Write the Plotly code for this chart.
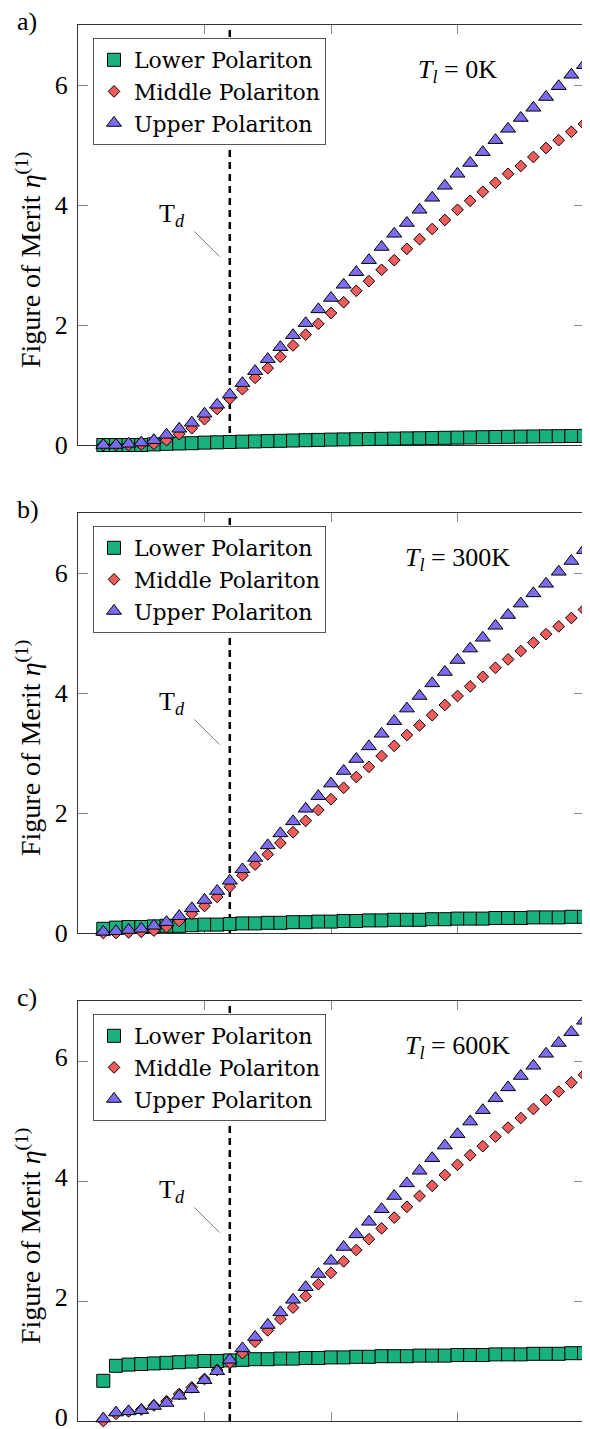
import plotly.graph_objects as go

# ---------------- data ----------------
x_vals = [0.2, 0.3, 0.4, 0.5, 0.6, 0.7, 0.8, 0.9, 1.0, 1.1,
          1.2, 1.3, 1.4, 1.5, 1.6, 1.7, 1.8, 1.9, 2.0, 2.1,
          2.2, 2.3, 2.4, 2.5, 2.6, 2.7, 2.8, 2.9, 3.0, 3.1,
          3.2, 3.3, 3.4, 3.5, 3.6, 3.7, 3.8, 3.9, 4.0]

# Panel a) T_l = 0K
lower_a = [0.00, 0.00, 0.00, 0.00, 0.01, 0.02, 0.025, 0.03, 0.04, 0.045,
           0.05, 0.055, 0.06, 0.065, 0.07, 0.075, 0.08, 0.085, 0.09, 0.093,
           0.096, 0.10, 0.103, 0.106, 0.11, 0.113, 0.116, 0.12, 0.123, 0.126,
           0.13, 0.133, 0.136, 0.14, 0.142, 0.145, 0.147, 0.15, 0.152]
middle_a = [0.00, 0.00, 0.00, 0.01, 0.02, 0.08, 0.18, 0.28, 0.43, 0.60,
            0.77, 0.93, 1.12, 1.28, 1.47, 1.66, 1.84, 2.02, 2.20, 2.38,
            2.57, 2.73, 2.92, 3.08, 3.27, 3.43, 3.60, 3.75, 3.92, 4.07,
            4.22, 4.37, 4.52, 4.65, 4.80, 4.95, 5.08, 5.22, 5.35]
upper_a = [0.00, 0.00, 0.02, 0.04, 0.08, 0.17, 0.27, 0.37, 0.52, 0.67,
           0.84, 1.03, 1.23, 1.43, 1.63, 1.83, 2.03, 2.26, 2.45, 2.67,
           2.88, 3.08, 3.30, 3.52, 3.70, 3.92, 4.12, 4.32, 4.52, 4.70,
           4.88, 5.08, 5.27, 5.45, 5.62, 5.80, 5.98, 6.17, 6.33]

# Panel b) T_l = 300K
lower_b = [0.07, 0.09, 0.10, 0.10, 0.11, 0.12, 0.12, 0.13, 0.14, 0.14,
           0.15, 0.16, 0.16, 0.17, 0.17, 0.18, 0.18, 0.19, 0.19, 0.20,
           0.20, 0.21, 0.21, 0.22, 0.22, 0.22, 0.23, 0.23, 0.24, 0.24,
           0.24, 0.25, 0.25, 0.25, 0.26, 0.26, 0.26, 0.27, 0.27]
middle_b = [0.00, 0.00, 0.01, 0.02, 0.04, 0.10, 0.20, 0.32, 0.45, 0.60,
            0.77, 0.96, 1.14, 1.31, 1.50, 1.68, 1.87, 2.05, 2.23, 2.42,
            2.60, 2.77, 2.95, 3.12, 3.30, 3.46, 3.63, 3.80, 3.95, 4.11,
            4.27, 4.42, 4.56, 4.70, 4.84, 4.98, 5.11, 5.25, 5.39]
upper_b = [0.02, 0.03, 0.05, 0.07, 0.12, 0.18, 0.28, 0.41, 0.55, 0.70,
           0.87, 1.06, 1.25, 1.46, 1.66, 1.86, 2.07, 2.28, 2.49, 2.70,
           2.90, 3.11, 3.32, 3.53, 3.74, 3.95, 4.16, 4.35, 4.55, 4.74,
           4.92, 5.12, 5.30, 5.49, 5.66, 5.82, 6.02, 6.20, 6.38]

# Panel c) T_l = 600K
lower_c = [0.67, 0.92, 0.94, 0.95, 0.96, 0.97, 0.98, 0.99, 1.00, 1.00,
           1.01, 1.02, 1.03, 1.03, 1.04, 1.04, 1.05, 1.05, 1.06, 1.06,
           1.07, 1.07, 1.08, 1.08, 1.08, 1.09, 1.09, 1.09, 1.10, 1.10,
           1.10, 1.11, 1.11, 1.11, 1.12, 1.12, 1.12, 1.13, 1.13]
middle_c = [0.00, 0.12, 0.16, 0.19, 0.26, 0.33, 0.45, 0.56, 0.70, 0.85,
            0.97, 1.13, 1.32, 1.51, 1.70, 1.89, 2.08, 2.28, 2.47, 2.66,
            2.85, 3.03, 3.21, 3.39, 3.57, 3.75, 3.92, 4.10, 4.27, 4.43,
            4.58, 4.74, 4.89, 5.05, 5.20, 5.35, 5.49, 5.64, 5.77]
upper_c = [0.04, 0.14, 0.16, 0.18, 0.25, 0.30, 0.42, 0.53, 0.68, 0.83,
           1.02, 1.21, 1.40, 1.60, 1.81, 2.02, 2.23, 2.45, 2.67, 2.90,
           3.11, 3.32, 3.53, 3.75, 3.96, 4.17, 4.38, 4.59, 4.78, 4.99,
           5.18, 5.38, 5.56, 5.75, 5.92, 6.12, 6.30, 6.48, 6.67]

series_names = ["Lower Polariton", "Middle Polariton", "Upper Polariton"]
panel_labels = ["a)", "b)", "c)"]
temp_labels = ["<i>T<sub>l</sub></i> = 0K", "<i>T<sub>l</sub></i> = 300K", "<i>T<sub>l</sub></i> = 600K"]
y_ticks = [0, 2, 4, 6]
x_ticks = [1, 2, 3]
t_d = 1.2
y_title = "Figure of Merit <i>η</i><sup>(1)</sup>"

panels = [(lower_a, middle_a, upper_a),
          (lower_b, middle_b, upper_b),
          (lower_c, middle_c, upper_c)]

# ---------------- style ----------------
OFF = 8                      # page body margin of the browser
W, H = 590 - OFF, 1429 - OFF
FONT = "Liberation Serif, DejaVu Serif, serif"
LEG_FONT = "DejaVu Serif, Liberation Serif, serif"
FS = 26
colors = ["#19B27E", "#F25C5C", "#7B6CF0"]
symbols = ["square", "diamond", "triangle-up"]
sizes = [13, 9, 13]

x_left, x_right = 78, 584
tops = [25, 513, 1001]
heights = 420
label_shift = [0, 0, -4]


def px(v):
    return (v - OFF) / W


def py(v):
    return 1 - (v - OFF) / H


fig = go.Figure()
layout = dict(
    width=W, height=H,
    margin=dict(l=0, r=0, t=0, b=0, autoexpand=False),
    paper_bgcolor="white", plot_bgcolor="white",
    font=dict(family=FONT, size=FS, color="black"),
    showlegend=True,
)
annotations = []
shapes = []

for i, (lo, mi, up) in enumerate(panels):
    n = "" if i == 0 else str(i + 1)
    xa, ya = "x" + n, "y" + n
    leg = "legend" + n
    for j, ys in enumerate([lo, mi, up]):
        fig.add_trace(go.Scatter(
            x=x_vals, y=ys, mode="markers", name=series_names[j],
            xaxis=xa, yaxis=ya, legend=leg, cliponaxis=False,
            marker=dict(symbol=symbols[j], size=sizes[j], color=colors[j],
                        line=dict(color="black", width=1)),
        ))
    top = tops[i]
    bot = top + heights
    layout["xaxis" + n] = dict(
        domain=[px(x_left), px(x_right)], range=[0, 4], anchor=ya,
        tickvals=x_ticks, showticklabels=False, ticks="inside", ticklen=9,
        tickcolor="#8a8a8a", tickwidth=1, showline=True, linecolor="#333",
        linewidth=1.2, mirror="ticks", showgrid=False, zeroline=False,
        layer="below traces", fixedrange=True, automargin=False,
    )
    layout["yaxis" + n] = dict(
        domain=[py(bot), py(top)], range=[0, 7], anchor=xa,
        tickvals=y_ticks, ticks="inside", ticklen=10, tickcolor="#8a8a8a",
        tickwidth=1, showline=True, linecolor="#333", linewidth=1.2,
        mirror="ticks", showgrid=False, zeroline=False,
        tickfont=dict(family=FONT, size=FS), layer="below traces",
        fixedrange=True, automargin=False, ticklabelstandoff=4,
        ticklabeloverflow="allow", ticklabelshift=label_shift[i],
    )
    layout[leg] = dict(
        x=px(93), y=py(top + 13), xanchor="left", yanchor="top",
        bgcolor="white", bordercolor="#555", borderwidth=1,
        font=dict(family=LEG_FONT, size=22), tracegroupgap=0,
    )
    # dashed T_d line
    shapes.append(dict(type="line", xref=xa, yref=ya + " domain",
                       x0=t_d, x1=t_d, y0=0, y1=1,
                       line=dict(color="black", width=2.5, dash="7px,5px"),
                       layer="below"))
    # leader line for T_d label
    shapes.append(dict(type="line", xref=xa, yref=ya,
                       x0=0.92, y0=3.56, x1=1.12, y1=3.14,
                       line=dict(color="#888", width=1)))
    annotations.append(dict(xref=xa, yref=ya, x=0.74, y=3.84,
                            text="T<sub><i>d</i></sub>", showarrow=False,
                            font=dict(family=FONT, size=FS)))
    annotations.append(dict(xref=xa, yref=ya, x=3.0, y=6.24,
                            text=temp_labels[i], showarrow=False,
                            font=dict(family=FONT, size=FS)))
    annotations.append(dict(xref="paper", yref="paper", x=px(15),
                            y=py(top - 3), xanchor="left", yanchor="middle",
                            text=panel_labels[i], showarrow=False,
                            font=dict(family=FONT, size=FS)))
    annotations.append(dict(xref="paper", yref="paper", x=px(28),
                            y=py(top + heights / 2 + 25), xanchor="center",
                            yanchor="middle", textangle=-90,
                            text=y_title, showarrow=False,
                            font=dict(family=FONT, size=28)))

layout["annotations"] = annotations
layout["shapes"] = shapes
fig.update_layout(**layout)
fig.write_html("out.html")
